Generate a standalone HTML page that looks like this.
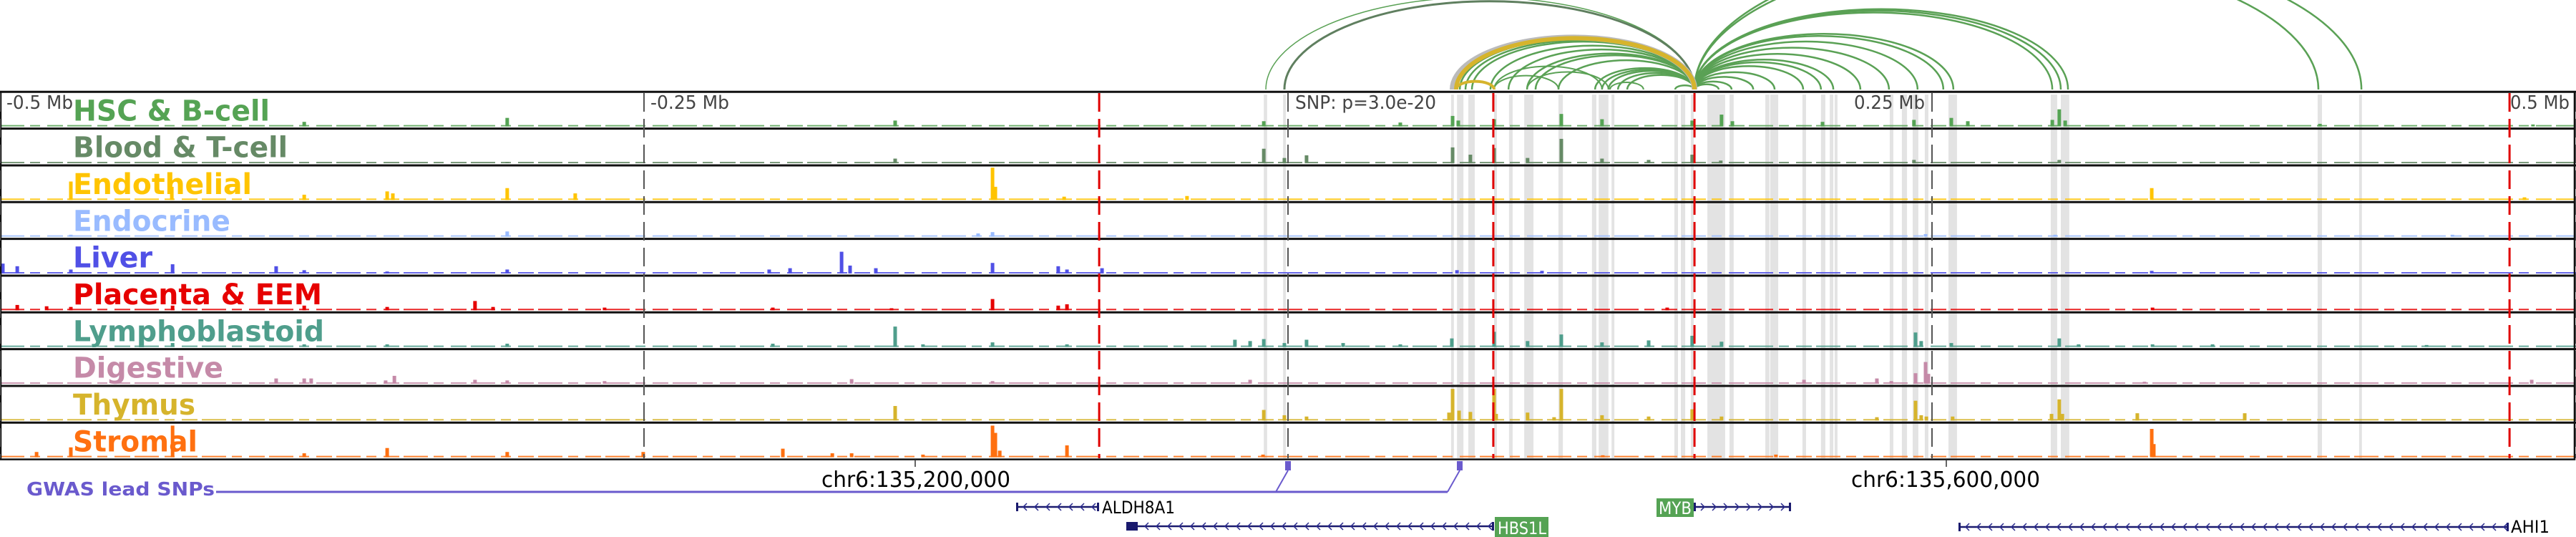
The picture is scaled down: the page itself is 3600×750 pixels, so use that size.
<!DOCTYPE html>
<html><head><meta charset="utf-8"><title>Epigenomic tracks chr6</title>
<style>html,body{margin:0;padding:0;background:#fff;}svg{display:block;}text{font-family:"DejaVu Sans","Liberation Sans",sans-serif;}</style>
</head><body>
<svg id="chart" xmlns="http://www.w3.org/2000/svg" width="3600" height="750" viewBox="0 0 3600 750">
<g id="arcs"></g>
<g id="bands"></g>
<g id="tracks"></g>
<g id="vlines"></g>
<g id="axislabels"></g>
<g id="bottom">
  <text x="37" y="692" font-size="26" font-weight="bold" fill="#6a5acd" textLength="263" lengthAdjust="spacingAndGlyphs">GWAS lead SNPs</text>
  <line x1="302" y1="687" x2="2023" y2="687" stroke="#6a5acd" stroke-width="3"/>
  <line x1="1783" y1="687" x2="1800" y2="657" stroke="#6a5acd" stroke-width="2"/>
  <line x1="2023" y1="687" x2="2040" y2="657" stroke="#6a5acd" stroke-width="2"/>
  <rect x="1796" y="644" width="8" height="13" fill="#6a5acd"/>
  <rect x="2036" y="644" width="8" height="13" fill="#6a5acd"/>
  <line x1="1279" y1="642" x2="1279" y2="652" stroke="#333" stroke-width="1.5"/>
  <line x1="2720" y1="642" x2="2720" y2="652" stroke="#333" stroke-width="1.5"/>
  <text x="1148" y="680" font-size="30" fill="#000" textLength="264" lengthAdjust="spacingAndGlyphs">chr6:135,200,000</text>
  <text x="2587" y="680" font-size="30" fill="#000" textLength="264" lengthAdjust="spacingAndGlyphs">chr6:135,600,000</text>
</g>
<g id="genes"></g>
</svg>
<script>
// ---- data ----
const trackNames = ["HSC & B-cell","Blood & T-cell","Endothelial","Endocrine","Liver","Placenta & EEM","Lymphoblastoid","Digestive","Thymus","Stromal"];
const trackColors = ["#55a354","#668a66","#ffc400","#99bbff","#5050e6","#e60000","#4f9e8c","#c58aa8","#d6b42c","#ff7010"];
const labelWidths = [275,300,250,220,111,348,351,210,171,174];
// peaks: [kb offset, signal]
const peaksHSC = [[-381.9,7],[-303.1,13],[-152.5,9],[-9.4,8],[43.6,6],[63.9,16],[66.1,9],[80,11],[106.1,19],[121.9,11],[156.9,9],[168.3,18],[172.5,8],[207.5,7],[243,10],[257.5,13],[263.9,8],[296.7,10],[299.4,26],[301.7,9],[400.6,4],[483.3,3]];
const peaksBlood = [[-303.1,2],[-152.5,7],[-9.4,22],[-1.4,8],[7.2,12],[63.9,24],[70.8,13],[80,23],[93,8],[106.1,37],[121.9,7],[140,5],[156.9,13],[168,4],[243,5],[299.4,5]];
const peaksEndo = [[-472.5,28],[-433.3,20],[-381.9,8],[-349.7,13],[-347.5,10],[-303.1,18],[-276.7,10],[-114.7,49],[-113.6,20],[-86.9,5],[-39.2,6],[335.3,18],[480,4]];
const peaksEndocrine = [[-303.1,8],[-120.3,5],[-114.7,7],[247.5,4],[297.8,3],[452,3],[-472.5,3]];
const peaksLiver = [[-498.9,15],[-493.3,11],[-472.5,6],[-433,14],[-392.8,11],[-381.9,5],[-349.7,3],[-303.1,6],[-173.3,33],[-170,12],[-193.3,8],[-201.4,6],[-160,8],[-114.7,16],[-89.2,11],[-85.8,6],[-72.2,8],[65.6,5],[98.6,4],[335.3,4]];
const peaksPlacenta = [[-493.3,8],[-481.9,6],[-472.5,5],[-433,7],[-381.9,7],[-349.7,5],[-315.6,14],[-308.6,5],[-265.3,4],[-200,4],[-114.7,17],[-89.2,7],[-85.8,9],[147.2,4],[-153.9,3],[335.6,4]];
const peaksLympho = [[-433,6],[-381.9,4],[-349.7,4],[-303.1,5],[-200,5],[-152.5,31],[-141.7,4],[-114.7,7],[-85.8,4],[-20.6,11],[-14.7,9],[-9.4,12],[-1.4,6],[7.2,11],[21.4,6],[43.6,4],[63.6,13],[80,23],[93,9],[106.1,19],[121.9,7],[140,10],[156.9,17],[168.3,8],[243.6,22],[245.8,9],[257.5,6],[299.4,13],[306.9,4],[335.6,4],[358.9,4],[442,3]];
const peaksDigestive = [[-392.8,8],[-381.9,8],[-379.2,8],[-346.9,12],[-350.3,5],[-315.6,6],[-303.1,5],[-265.3,4],[-169.4,7],[-14.7,6],[-114.7,4],[200.3,6],[228.6,8],[234.2,4],[243.6,16],[247.5,33],[248.6,15],[332.5,3],[482.8,6]];
const peaksThymus = [[-152.5,22],[-9.4,16],[-1.4,8],[7.2,6],[62.5,12],[63.9,48],[66.4,15],[70.8,13],[80,48],[80.8,10],[93,12],[103.3,5],[106.1,48],[121.9,8],[140,6],[156.9,17],[168.3,6],[228.6,5],[243.6,30],[245.8,8],[247.8,6],[258,6],[296.4,10],[299.4,32],[300.6,10],[329.7,11],[371.4,11]];
const peaksStromal = [[-485.8,8],[-472.5,15],[-433,48],[-381.9,6],[-349.7,14],[-303.1,8],[-250.3,8],[-196.1,13],[-176.9,6],[-169.4,6],[-114.7,48],[-113.6,37],[-111.9,10],[-85.8,18],[-141.7,4],[-9.7,4],[122.2,3],[335.3,43],[336.1,20],[189.4,4]];
const trackPeaks = [peaksHSC,peaksBlood,peaksEndo,peaksEndocrine,peaksLiver,peaksPlacenta,peaksLympho,peaksDigestive,peaksThymus,peaksStromal];
const bandsKb = [[-9.4,-8.1],[-1.9,-0.8],[63.3,64.4],[65.6,68.1],[70,72.5],[80,81.1],[85.8,87.2],[91.7,95.3],[105,106.7],[118,119.7],[120.6,124.4],[125.6,126.7],[150,151.4],[152.5,154.2],[156.4,157.5],[162.8,169.7],[171.4,173],[185.3,186.9],[187.2,190.3],[199.7,201.1],[206.9,208.6],[210.3,211.7],[212.2,213.3],[233.6,235],[238.3,240.3],[242.5,244.7],[247.2,248.6],[256.4,259.7],[296.1,298.6],[300,303.3],[399.7,401.4],[415.8,416.9]];
const redLinesKb = [-73.3,79.7,157.8,474.2];
const tickKb = [-500,-250,0,250,500];
const tickLabels = ["-0.5 Mb","-0.25 Mb","","0.25 Mb","0.5 Mb"];
const arcHubKb = 157.8;
const arcLeftKb = [66.7,68.9,71.4,78.6,85.6,92.8,96.1,105,119.2,121.9,124.4,128.1,131.7,150.3];
const arcRightKb = [167.2,172.2,180.6,188.9,200,206.9,211.7,222.2,233.3,244.4,254.4,258.3,296.7,300,302.8,400,416.7];
const arcOtherPairs = [[65.3,80],[80,105],[80,121.9],[92.8,124.4],[125,138]];
const arcGoldKb = [65.3,63.9];
const arcDarkKb = [-1.4];
const arcFarKb = [-8.6];

// ---- scales ----
const NS = "http://www.w3.org/2000/svg";
const xS = kb => 1800 + kb*3.6;
const trackTop = i => 128.3 + i*51.33;
const trackH = 51.33;
const yS = v => v/50*46;
function mk(tag, attrs, parent){ const e=document.createElementNS(NS,tag); for(const k in attrs) e.setAttribute(k,attrs[k]); parent.appendChild(e); return e; }

// arcs
const gA = document.getElementById('arcs');
const baseY = 125;
function arc(a,b,color,w,name){
  const x1=xS(Math.min(a,b)), x2=xS(Math.max(a,b)); const rx=(x2-x1)/2, ry=rx*0.43;
  const p = mk('path',{d:`M${x1},${baseY} A${rx},${ry} 0 0 1 ${x2},${baseY}`,fill:'none',stroke:color,'stroke-width':w},gA);
  
  
}
arcFarKb.forEach(k=>arc(k,arcHubKb,'#5aa155',1.5,'loop-arc'));
arcDarkKb.forEach(k=>arc(k,arcHubKb,'#5f7f5f',3,'loop-arc-dark'));
arcLeftKb.forEach(k=>arc(k,arcHubKb,'#5aa155',2.5,'loop-arc'));
arcRightKb.forEach(k=>arc(k,arcHubKb,'#5aa155',2.5,'loop-arc'));
arcOtherPairs.forEach(p=>arc(p[0],p[1],'#5aa155',2,'loop-arc'));
arc(arcGoldKb[1],arcHubKb,'#bbbbbb',8,'loop-arc-halo');
arc(arcGoldKb[0],arcHubKb,'#d6b42c',6,'loop-arc-gold');
arc(arcGoldKb[0],80,'#d6b42c',4,'loop-arc-gold-small');

// bands
const gB = document.getElementById('bands');
bandsKb.forEach(b=>{
  const r = mk('rect',{x:xS(b[0]),y:132,width:Math.max(3,xS(b[1])-xS(b[0])),height:508,fill:'#e3e3e3'},gB);
  
  
});

// tracks
const gT = document.getElementById('tracks');
trackNames.forEach((nm,i)=>{
  const g = mk('g',{},gT);
  
  
  const top=trackTop(i), base=top+trackH-3;
  const bl = mk('line',{x1:0,y1:base-1,x2:3600,y2:base-1,stroke:trackColors[i],'stroke-width':2,'stroke-dasharray':'34 8 14 10 22 6','opacity':0.85},g);
  
  
  trackPeaks[i].forEach(p=>{
    const h=yS(p[1]);
    const r = mk('rect',{x:xS(p[0])-2.5,y:base-h,width:5,height:h,fill:trackColors[i]},g);
    
    
  });
  const t = mk('text',{x:102,y:top+40,'font-size':40,'font-weight':'bold',fill:trackColors[i],textLength:labelWidths[i],lengthAdjust:'spacingAndGlyphs'},g);
  t.textContent = nm;
  
  
  const ln = mk('line',{x1:0,y1:top,x2:3600,y2:top,stroke:'#111','stroke-width':3},g);
  
  
});
const bb = mk('rect',{x:1,y:128.3,width:3597,height:513.3,fill:'none',stroke:'#111','stroke-width':2.5},gT);



// vertical lines
const gV = document.getElementById('vlines');
tickKb.forEach(k=>{
  const l = mk('line',{x1:xS(k),y1:130,x2:xS(k),y2:640,stroke:'#555','stroke-width':2,'stroke-dasharray':'26 10'},gV);
  
  
});
redLinesKb.forEach(k=>{
  const l = mk('line',{x1:xS(k),y1:130,x2:xS(k),y2:640,stroke:'#e00000','stroke-width':3,'stroke-dasharray':'26 10'},gV);
  
  
});

// axis labels
const gL = document.getElementById('axislabels');
const labW = [93,110,0,99,83];
tickLabels.forEach((s,i)=>{
  if(!s) return;
  let x = xS(tickKb[i]) + 9;
  if(i===3) x = xS(tickKb[i]) - 10 - labW[i];
  if(i===4) x = 3508;
  const t = mk('text',{x:x,y:152,'font-size':26,fill:'#444',textLength:labW[i],lengthAdjust:'spacingAndGlyphs'},gL);
  t.textContent = s;
  
  
});
const snp = mk('text',{x:1810,y:152,'font-size':26,fill:'#444',textLength:197,lengthAdjust:'spacingAndGlyphs'},gL);
snp.textContent = 'SNP: p=3.0e-20';



// genes
const gG = document.getElementById('genes');
function gene(name,x1,x2,y,dir,label){
  const g = mk('g',{},gG);
  
  
  mk('line',{x1:x1,y1:y,x2:x2,y2:y,stroke:'#1a1a6e','stroke-width':2.5},g);
  mk('rect',{x:x1,y:y-6,width:3,height:12,fill:'#1a1a6e'},g);
  mk('rect',{x:x2-3,y:y-6,width:3,height:12,fill:'#1a1a6e'},g);
  let d='';
  for(let x=x1+10;x<x2-6;x+=16){ d+= dir<0 ? `M${x+5},${y-5} L${x},${y} L${x+5},${y+5} ` : `M${x},${y-5} L${x+5},${y} L${x},${y+5} `; }
  mk('path',{d:d,fill:'none',stroke:'#2a2a8e','stroke-width':1.5},g);
  return g;
}
gene('ALDH8A1',1420,1536,708,-1);
let t = mk('text',{x:1540,y:717,'font-size':24,fill:'#000',textLength:102,lengthAdjust:'spacingAndGlyphs'},gG);
t.textContent='ALDH8A1';


const hb = gene('HBS1L',1574,2088,735,-1);
mk('rect',{x:1574,y:729,width:16,height:12,fill:'#1a1a6e'},hb);
let r = mk('rect',{x:2089,y:722,width:75,height:28,fill:'#55a354'},gG);


t = mk('text',{x:2093,y:746,'font-size':24,fill:'#fff',textLength:68,lengthAdjust:'spacingAndGlyphs'},gG);
t.textContent='HBS1L';


gene('MYB',2367,2503,708,1);
r = mk('rect',{x:2315,y:696,width:52,height:26,fill:'#55a354'},gG);


t = mk('text',{x:2318,y:718,'font-size':24,fill:'#fff',textLength:46,lengthAdjust:'spacingAndGlyphs'},gG);
t.textContent='MYB';


gene('AHI1',2737,3506,736,-1);
t = mk('text',{x:3509,y:744,'font-size':24,fill:'#000',textLength:54,lengthAdjust:'spacingAndGlyphs'},gG);
t.textContent='AHI1';


</script>
</body></html>
